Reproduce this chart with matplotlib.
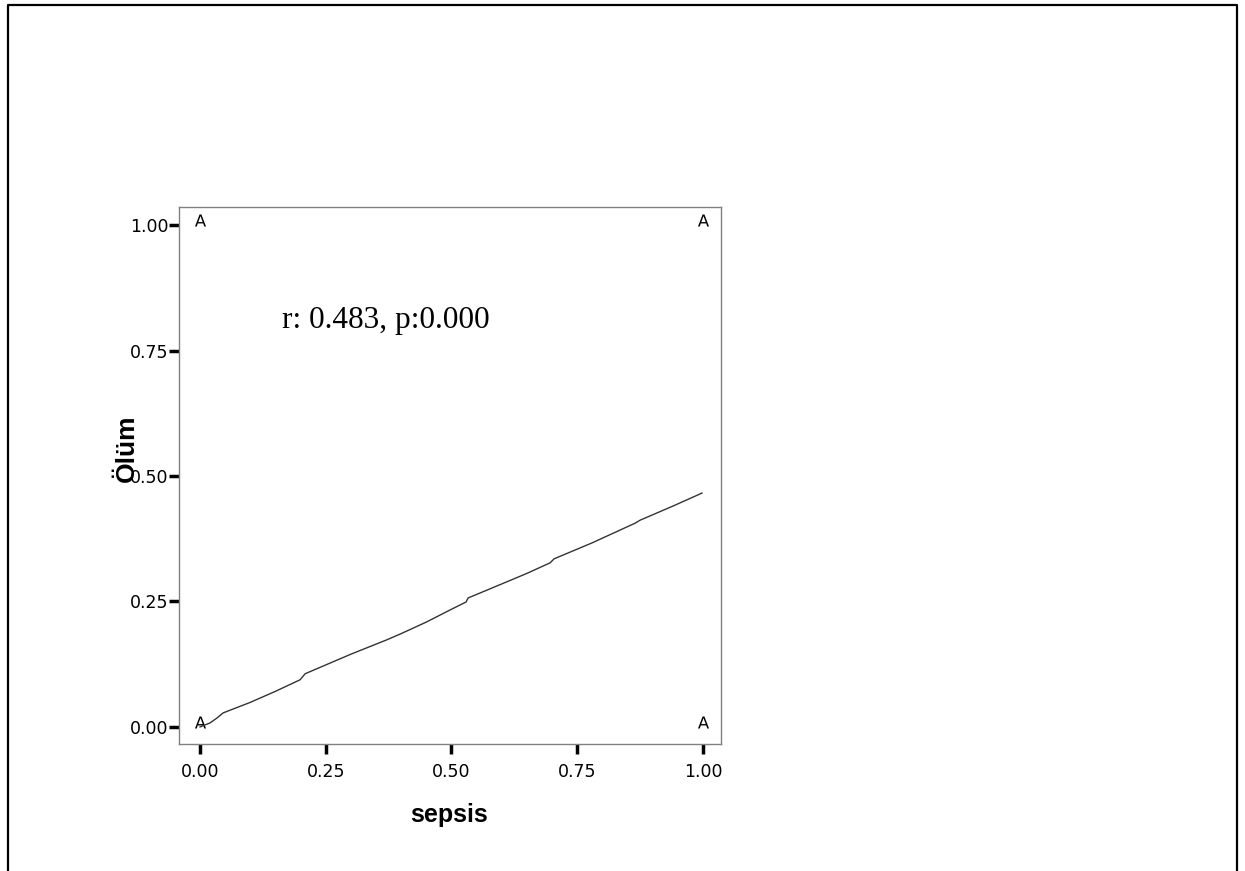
import matplotlib.pyplot as plt
from matplotlib.lines import Line2D
from matplotlib.transforms import ScaledTranslation

# corner points (binary variables)
point_x = [0, 0, 1, 1]
point_y = [0, 1, 0, 1]

# fit line
fit_x = [0.0, 0.02, 0.034, 0.046, 0.10, 0.15, 0.199, 0.209, 0.30, 0.37, 0.40,
         0.45, 0.497, 0.529, 0.533, 0.60, 0.65, 0.696, 0.704, 0.78, 0.865, 0.875,
         0.94, 0.998]
fit_y = [0.0, 0.008, 0.018, 0.028, 0.049, 0.071, 0.094, 0.106, 0.145, 0.173, 0.186,
         0.209, 0.233, 0.249, 0.257, 0.285, 0.306, 0.327, 0.335, 0.367, 0.406, 0.412,
         0.440, 0.466]

xticks = [0.0, 0.25, 0.5, 0.75, 1.0]
yticks = [0.0, 0.25, 0.5, 0.75, 1.0]

fig = plt.figure(figsize=(12.45, 8.71), dpi=100)
ax = fig.add_axes([0.1438, 0.1458, 0.4353, 0.6165])

ax.plot(fit_x, fit_y, color='#333333', lw=1.0)
# SPSS draws the "A" glyph a little above the point
lift = ax.transData + ScaledTranslation(0, 0.05, fig.dpi_scale_trans)
ax.scatter(point_x, point_y, marker=r'$\mathsf{A}$', s=75, color='black',
           linewidths=0, transform=lift)

ax.set_xlim(-0.0417, 1.0358)
ax.set_ylim(-0.034, 1.036)
ax.set_xticks(xticks)
ax.set_yticks(yticks)
ax.set_xticklabels([f"{v:.2f}" for v in xticks])
ax.set_yticklabels([f"{v:.2f}" for v in yticks])
ax.tick_params(direction='out', length=7.5, width=2.5, color='black',
               labelsize=12.5, labelcolor='black')
ax.tick_params(axis='y', pad=0)
ax.tick_params(axis='x', pad=6)
for s in ax.spines.values():
    s.set_color('#808080')
    s.set_linewidth(1.0)

ax.text(0.163, 0.795, "r: 0.483, p:0.000", family='Liberation Serif', fontsize=22.5,
        ha='left', va='baseline')

ax.text(0.498, -0.132, "sepsis", transform=ax.transAxes, family='Liberation Sans',
        fontweight='bold', fontsize=18, ha='center', va='center')
ax.text(-0.096, 0.551, "Ölüm", transform=ax.transAxes, family='Liberation Sans',
        fontweight='bold', fontsize=19, ha='center', va='center', rotation=90)

# outer frame (left, top, right)
fx0, fx1, fy1 = 8 / 1245, 1237 / 1245, 1 - 5 / 871
fig.add_artist(Line2D([fx0, fx0, fx1, fx1], [0, fy1, fy1, 0], color='black', lw=1.6,
                      transform=fig.transFigure))

fig.savefig("out.png", dpi=100)
